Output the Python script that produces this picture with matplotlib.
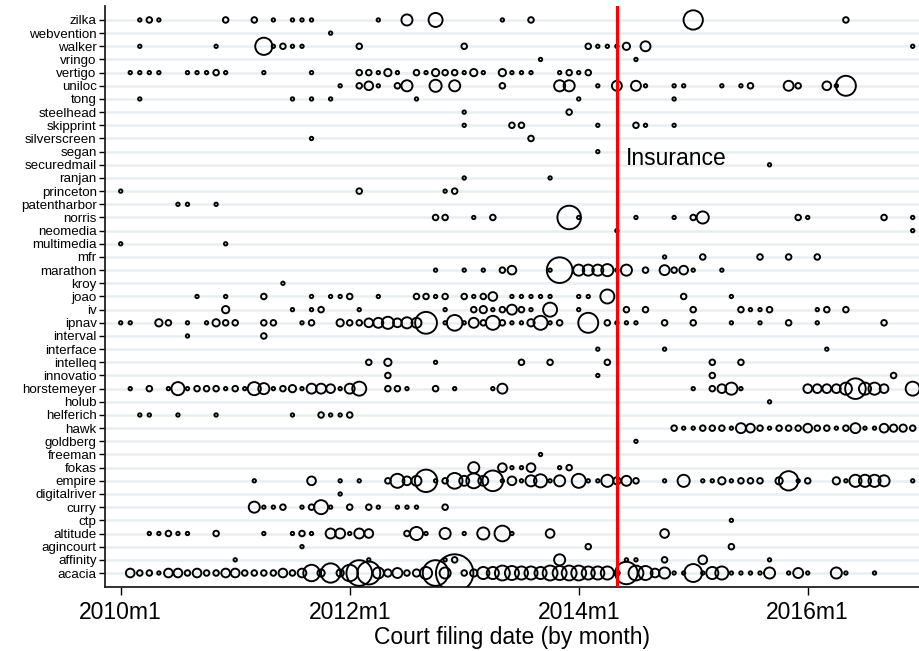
import numpy as np
import matplotlib
matplotlib.use("Agg")
import matplotlib.pyplot as plt

# months since 2010m1 -> number of filings in that month
acacia = {1: 4, 2: 2, 3: 2, 4: 1, 5: 4, 6: 4, 7: 2, 8: 4, 9: 2, 10: 2, 11: 4, 12: 4,
          13: 2, 14: 2, 15: 2, 16: 2, 17: 4, 18: 2, 19: 4, 20: 12, 21: 3, 22: 16,
          23: 3, 24: 12, 25: 27, 26: 22, 27: 6, 28: 3, 29: 5, 30: 2, 31: 3, 32: 7,
          33: 27, 34: 6, 35: 55, 36: 2, 37: 3, 38: 7, 39: 7, 40: 10, 41: 9, 42: 8,
          43: 8, 44: 7, 45: 10, 46: 9, 47: 10, 48: 10, 49: 8, 50: 8, 51: 8, 52: 2,
          53: 21, 54: 10, 55: 9, 56: 4, 57: 6, 58: 1, 59: 1, 60: 14, 61: 1, 62: 7,
          63: 8, 64: 1, 65: 1, 66: 1, 67: 1, 68: 6, 70: 1, 71: 5, 72: 1, 75: 6,
          76: 1, 79: 1}
affinity = {12: 1, 26: 1, 34: 1, 35: 2, 46: 6, 53: 1, 54: 1, 57: 2, 61: 4, 68: 1}
agincourt = {19: 1, 49: 2, 64: 2}
altitude = {3: 1, 4: 1, 5: 2, 6: 1, 7: 1, 10: 2, 15: 1, 18: 1, 19: 2, 20: 1, 22: 5,
            23: 5, 24: 1, 25: 5, 26: 4, 30: 2, 31: 8, 32: 1, 34: 6, 36: 1, 38: 7,
            40: 11, 41: 1, 45: 4, 57: 4}
ctp = {64: 1}
curry = {14: 6, 15: 1, 16: 1, 17: 2, 19: 1, 20: 2, 21: 9, 22: 1, 24: 2, 26: 2,
         27: 1, 29: 1, 30: 1, 31: 1, 34: 2}
digitalriver = {23: 1}
empire = {14: 1, 20: 4, 23: 1, 25: 1, 28: 2, 29: 9, 30: 4, 31: 5, 32: 21, 33: 1,
          34: 2, 35: 11, 36: 5, 37: 10, 38: 5, 39: 18, 40: 1, 41: 4, 42: 1, 43: 6,
          44: 8, 45: 1, 46: 6, 48: 9, 49: 1, 50: 1, 51: 7, 52: 3, 53: 5, 54: 2,
          57: 1, 59: 7, 61: 1, 62: 1, 63: 3, 64: 1, 65: 2, 66: 2, 67: 2, 69: 3,
          70: 16, 71: 1, 72: 2, 75: 3, 76: 1, 77: 7, 78: 7, 79: 7, 80: 6, 83: 1}
fokas = {37: 6, 40: 4, 41: 1, 42: 1, 43: 4, 46: 1, 47: 2}
freeman = {44: 1}
goldberg = {54: 1}
hawk = {58: 2, 59: 1, 60: 1, 61: 2, 62: 2, 63: 2, 64: 1, 65: 5, 66: 4, 67: 2,
        68: 1, 69: 2, 70: 2, 71: 2, 72: 4, 73: 2, 74: 2, 75: 1, 76: 2, 77: 5,
        78: 1, 79: 1, 80: 4, 81: 3, 82: 3, 83: 2}
helferich = {2: 1, 3: 1, 6: 1, 10: 1, 18: 1, 21: 2, 22: 1, 23: 1, 24: 2}
holub = {68: 1}
horstemeyer = {1: 1, 3: 2, 5: 1, 6: 8, 7: 1, 8: 2, 9: 2, 10: 2, 11: 1, 12: 2,
               13: 1, 14: 8, 15: 6, 16: 1, 17: 2, 18: 3, 19: 1, 20: 5, 21: 5,
               22: 4, 23: 1, 24: 5, 25: 9, 28: 2, 29: 2, 30: 1, 33: 2, 35: 1,
               39: 1, 40: 5, 60: 1, 62: 2, 63: 4, 64: 7, 65: 1, 72: 4, 73: 4,
               74: 4, 75: 4, 76: 7, 77: 18, 78: 7, 79: 7, 80: 4, 83: 9}
innovatio = {28: 2, 50: 1, 62: 2, 81: 2}
intelleq = {26: 2, 28: 3, 33: 1, 42: 2, 45: 2, 51: 2, 62: 2, 65: 2}
interface = {50: 1, 57: 1, 74: 1}
interval = {7: 1, 15: 2}
ipnav = {0: 1, 1: 1, 4: 3, 5: 2, 7: 1, 9: 1, 10: 3, 11: 2, 12: 2, 15: 2, 16: 2,
         19: 1, 20: 2, 23: 3, 24: 2, 25: 2, 26: 4, 27: 5, 28: 7, 29: 4, 30: 6,
         31: 5, 32: 20, 34: 1, 35: 11, 36: 1, 37: 5, 38: 2, 39: 9, 40: 2, 41: 1,
         42: 1, 43: 3, 44: 9, 45: 1, 46: 2, 49: 17, 51: 2, 52: 1, 53: 1, 54: 1,
         57: 2, 60: 2, 64: 1, 67: 1, 70: 2, 73: 1, 80: 2}
iv = {11: 3, 18: 1, 20: 1, 21: 2, 25: 1, 34: 1, 37: 2, 38: 3, 39: 1, 40: 2, 41: 5,
      42: 2, 43: 1, 45: 9, 48: 1, 53: 2, 55: 2, 60: 2, 65: 2, 66: 1, 67: 1, 68: 2,
      73: 1, 74: 2, 76: 2}
joao = {8: 1, 11: 1, 15: 2, 20: 1, 22: 1, 23: 1, 24: 2, 27: 1, 31: 2, 32: 2, 33: 1,
        34: 2, 36: 2, 37: 1, 38: 2, 39: 4, 41: 1, 42: 1, 43: 1, 44: 1, 45: 1,
        48: 1, 49: 1, 51: 9, 59: 2, 64: 1}
kroy = {17: 1}
marathon = {33: 1, 36: 1, 38: 1, 40: 2, 41: 4, 45: 1, 46: 27, 48: 6, 49: 6, 50: 6,
            51: 7, 52: 1, 53: 6, 55: 2, 57: 5, 58: 2, 59: 4, 60: 1, 63: 1}
mfr = {57: 1, 61: 2, 67: 2, 70: 2, 73: 2}
multimedia = {0: 1, 11: 1}
neomedia = {52: 1, 83: 1}
norris = {33: 2, 34: 2, 37: 1, 39: 2, 47: 23, 48: 1, 54: 1, 58: 1, 60: 2, 61: 7,
          71: 2, 72: 1, 80: 2, 83: 1}
patentharbor = {6: 1, 7: 1, 10: 1}
princeton = {0: 1, 25: 2, 34: 1, 35: 2}
ranjan = {36: 1, 45: 1}
securedmail = {68: 1}
segan = {50: 1}
silverscreen = {20: 1, 43: 2}
skipprint = {36: 1, 41: 2, 42: 2, 50: 1, 54: 2, 55: 1, 58: 1}
steelhead = {36: 1, 47: 2}
tong = {2: 1, 18: 1, 20: 1, 22: 1, 31: 1, 48: 1, 58: 1}
uniloc = {23: 1, 25: 2, 26: 4, 27: 1, 29: 2, 30: 6, 33: 7, 35: 6, 40: 2, 46: 6,
          47: 6, 50: 1, 52: 5, 54: 5, 55: 1, 58: 1, 59: 1, 63: 1, 65: 1, 66: 2,
          70: 5, 71: 2, 74: 4, 75: 1, 76: 17}
vertigo = {1: 1, 2: 1, 3: 1, 4: 1, 7: 1, 8: 1, 9: 1, 10: 2, 11: 1, 15: 1, 20: 1,
           25: 2, 26: 2, 27: 1, 28: 3, 29: 1, 31: 2, 32: 1, 33: 3, 34: 2, 35: 2,
           36: 1, 37: 3, 38: 1, 40: 3, 41: 1, 42: 1, 43: 1, 46: 1, 47: 2, 48: 1,
           49: 2}
vringo = {44: 1, 54: 1}
walker = {2: 1, 10: 1, 15: 13, 16: 1, 17: 2, 18: 1, 19: 1, 25: 2, 36: 2, 49: 2,
          50: 1, 51: 1, 52: 1, 53: 3, 55: 5, 83: 1}
webvention = {22: 1}
zilka = {2: 1, 3: 2, 4: 1, 11: 2, 14: 2, 16: 1, 18: 1, 19: 1, 20: 1, 27: 1, 30: 6,
         33: 9, 40: 1, 43: 2, 60: 16, 76: 2}

firms = ["acacia", "affinity", "agincourt", "altitude", "ctp", "curry",
         "digitalriver", "empire", "fokas", "freeman", "goldberg", "hawk",
         "helferich", "holub", "horstemeyer", "innovatio", "intelleq",
         "interface", "interval", "ipnav", "iv", "joao", "kroy", "marathon",
         "mfr", "multimedia", "neomedia", "norris", "patentharbor", "princeton",
         "ranjan", "securedmail", "segan", "silverscreen", "skipprint",
         "steelhead", "tong", "uniloc", "vertigo", "vringo", "walker",
         "webvention", "zilka"]

insurance_month = 52  # 2014m5
xticks = [0, 24, 48, 72]

if __name__ == '__main__':
    plt.rcParams['font.family'] = ['Liberation Sans', 'DejaVu Sans']

    W, H = 920, 651
    fig = plt.figure(figsize=(W / 100, H / 100), dpi=100)
    ax = fig.add_axes([105 / W, (H - 586.7) / H, (W - 105) / W, (586.7 - 6) / H])

    # horizontal grid at every firm
    for i in range(len(firms)):
        ax.axhline(i + 1, color="#e8eff1", lw=1.8, zorder=0)

    lw_px = 1.9
    for i, name in enumerate(firms):
        data = globals()[name]
        months = np.array(list(data.keys()))
        counts = np.array(list(data.values()))
        d_px = 5.3 * np.sqrt(counts) - lw_px
        ax.scatter(months, np.full(len(months), i + 1), s=(d_px * 0.72) ** 2,
                   facecolors="none", edgecolors="black", linewidths=lw_px * 0.72,
                   zorder=3, clip_on=True)

    ax.axvline(insurance_month, color="#ff0000", lw=2.3, zorder=4)
    ax.text(insurance_month + 0.95, 32.5, "Insurance", fontsize=16.5,
            ha="left", va="center", zorder=5)

    ax.set_xlim(-1.645, -1.645 + 815 / 9.542)
    ax.set_ylim(-0.04, 44.06)

    ax.set_yticks(np.arange(1, len(firms) + 1))
    ax.set_yticklabels(firms, fontsize=9.6)
    ax.set_xticks(xticks)
    ax.set_xticklabels(["%dm%d" % (2010 + m // 12, m % 12 + 1) for m in xticks],
                       fontsize=16.5)
    ax.set_xlabel("Court filing date (by month)", fontsize=16.5, labelpad=2)

    ax.tick_params(axis="y", length=4, width=1, pad=2, colors="black")
    ax.tick_params(axis="x", length=6, width=1, pad=4, colors="black")
    for side in ["top", "right"]:
        ax.spines[side].set_visible(False)
    for side in ["left", "bottom"]:
        ax.spines[side].set_linewidth(1.3)
        ax.spines[side].set_color("#222222")

    fig.savefig("out.png", dpi=100)
